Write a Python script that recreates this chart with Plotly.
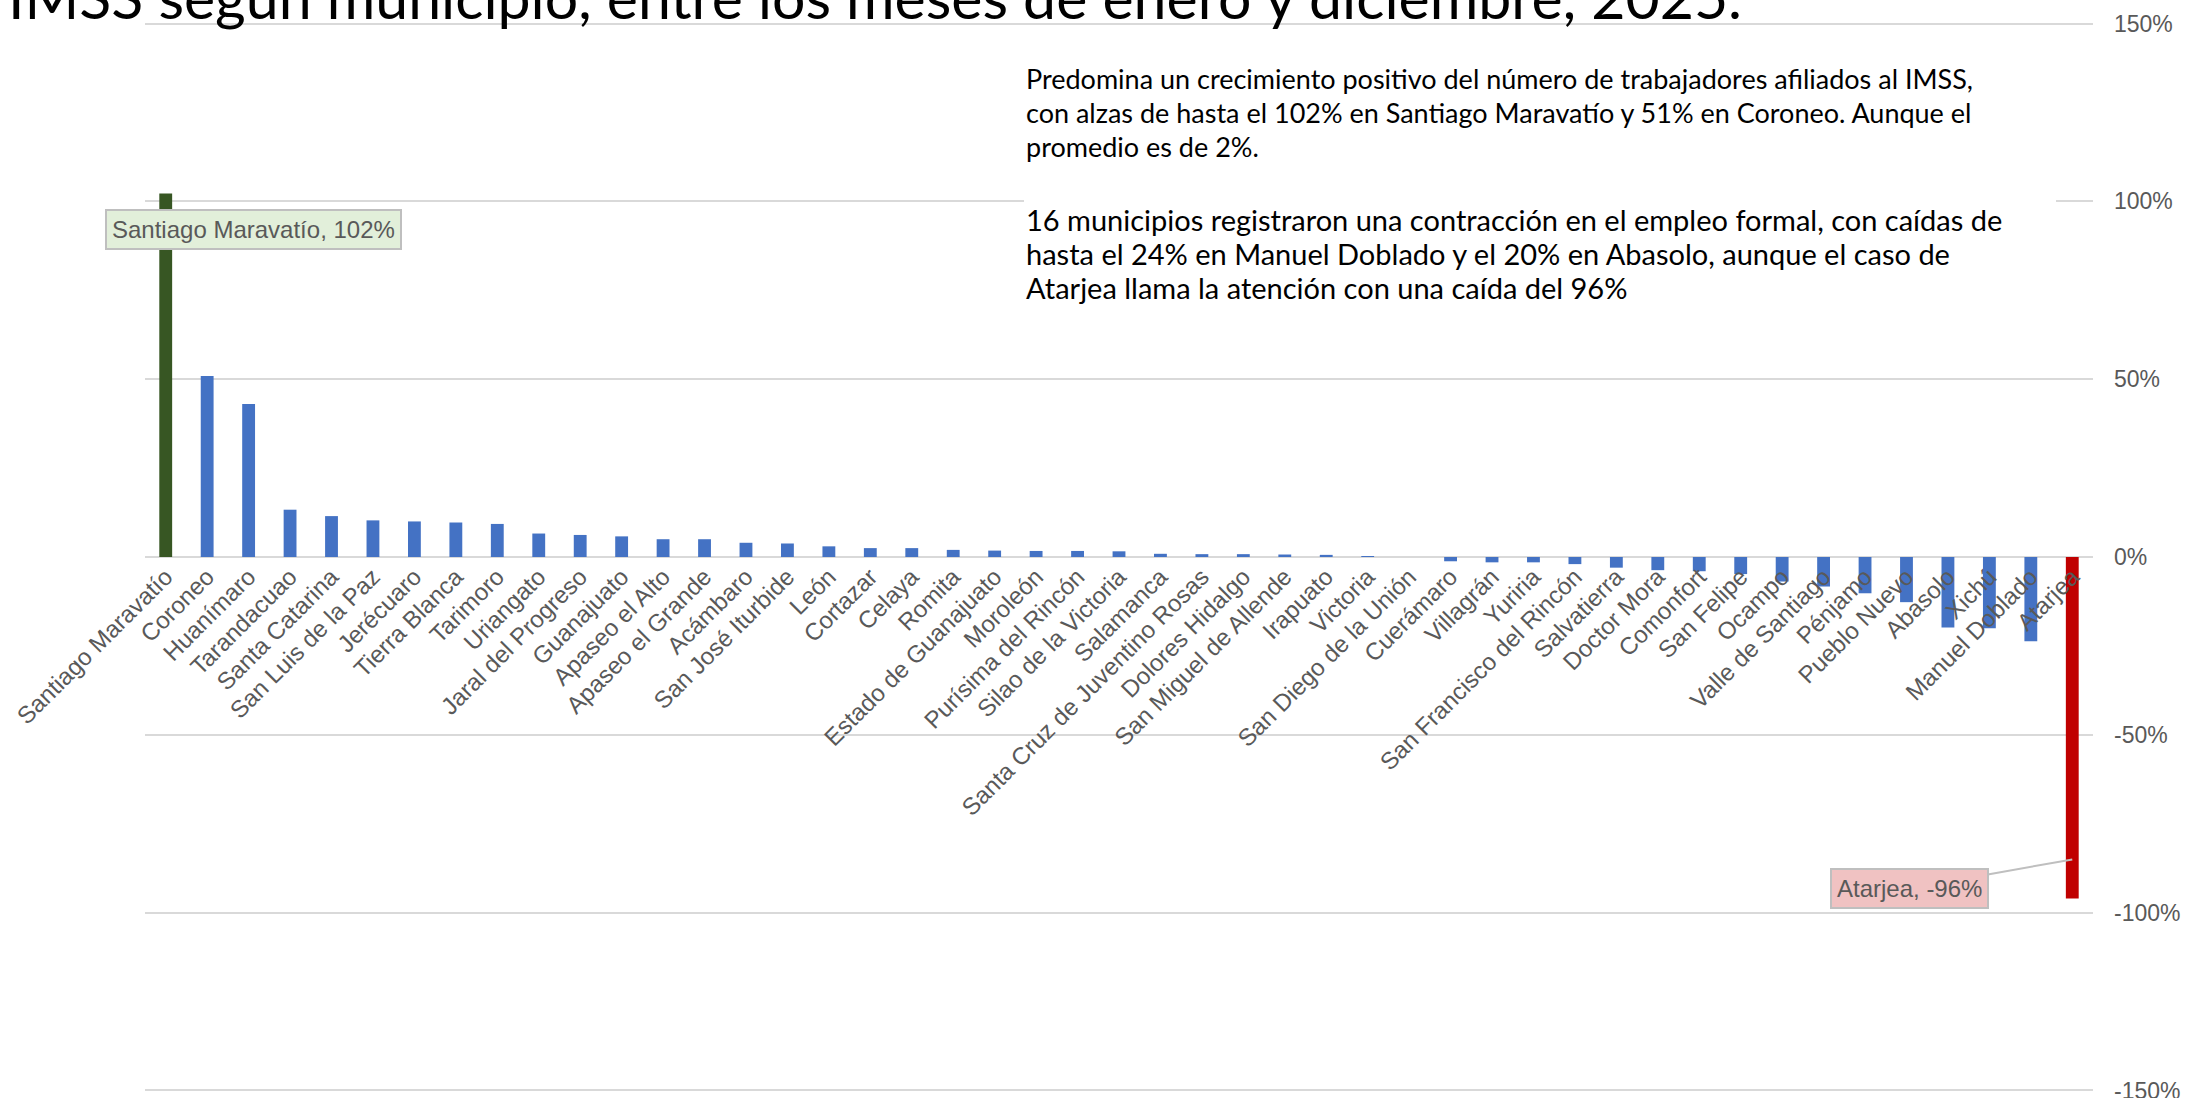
import plotly.graph_objects as go

municipios = [
    "Santiago Maravatío", "Coroneo", "Huanímaro", "Tarandacuao", "Santa Catarina",
    "San Luis de la Paz", "Jerécuaro", "Tierra Blanca", "Tarimoro", "Uriangato",
    "Jaral del Progreso", "Guanajuato", "Apaseo el Alto", "Apaseo el Grande", "Acámbaro",
    "San José Iturbide", "León", "Cortazar", "Celaya", "Romita",
    "Estado de Guanajuato", "Moroleón", "Purísima del Rincón", "Silao de la Victoria", "Salamanca",
    "Santa Cruz de Juventino Rosas", "Dolores Hidalgo", "San Miguel de Allende", "Irapuato", "Victoria",
    "San Diego de la Unión", "Cuerámaro", "Villagrán", "Yuriria", "San Francisco del Rincón",
    "Salvatierra", "Doctor Mora", "Comonfort", "San Felipe", "Ocampo",
    "Valle de Santiago", "Pénjamo", "Pueblo Nuevo", "Abasolo", "Xichú",
    "Manuel Doblado", "Atarjea",
]
variacion = [
    102.2, 50.9, 43.0, 13.3, 11.5,
    10.3, 10.0, 9.7, 9.3, 6.6,
    6.2, 5.8, 5.0, 5.0, 4.0,
    3.8, 3.0, 2.5, 2.5, 2.0,
    1.8, 1.7, 1.7, 1.6, 0.9,
    0.8, 0.8, 0.7, 0.6, 0.05,
    0.0, -1.2, -1.5, -1.5, -2.0,
    -3.0, -3.7, -4.0, -4.8, -6.9,
    -8.3, -10.2, -12.7, -19.8, -20.0,
    -23.7, -96.0,
]
y_ticks = [-150, -100, -50, 0, 50, 100, 150]
y_ticktext = ["-150%", "-100%", "-50%", "0%", "50%", "100%", "150%"]

titulo = "IMSS según municipio, entre los meses de enero y diciembre, 2025."
parrafo1 = [
    "Predomina un crecimiento positivo del número de trabajadores afiliados al IMSS,",
    "con alzas de hasta el 102% en Santiago Maravatío y 51% en Coroneo. Aunque el",
    "promedio es de 2%.",
]
parrafo2 = [
    "16 municipios registraron una contracción en el empleo formal, con caídas de",
    "hasta el 24% en Manuel Doblado y el 20% en Abasolo, aunque el caso de",
    "Atarjea llama la atención con una caída del 96%",
]

W, H = 2185, 1098
L, R, T, B = 145, 2093, 20, 1094


def px_x(px):
    return (px - L) / (R - L)


def px_y(py):
    return (B - py) / (B - T)


BLUE = "#4472C4"
colors = [BLUE] * len(municipios)
colors[0] = "#375623"
colors[-1] = "#C00000"

fig = go.Figure()
fig.add_trace(go.Bar(
    x=municipios, y=variacion, marker=dict(color=colors, line=dict(width=0)),
    width=0.31, showlegend=False,
))

GRID = "#D9D9D9"
fig.update_layout(
    width=W, height=H,
    margin=dict(l=L, r=W - R, t=T, b=H - B, pad=0, autoexpand=False),
    paper_bgcolor="white", plot_bgcolor="white",
    font=dict(family="Liberation Sans, Arial, sans-serif", color="#595959"),
    xaxis=dict(
        type="category", anchor="free", position=0.5, automargin=False,
        tickangle=-45, tickfont=dict(size=24, color="#595959"),
        showgrid=False, showline=False, ticks="", zeroline=False,
        range=[-0.5, len(municipios) - 0.5],
    ),
    yaxis=dict(
        side="right", range=[-151, 151], tickvals=y_ticks, ticktext=y_ticktext,
        automargin=False,
        showgrid=True, gridcolor=GRID, gridwidth=2,
        zeroline=True, zerolinecolor=GRID, zerolinewidth=2,
        tickfont=dict(size=23, color="#595959"), ticklabelstandoff=20,
        ticklabeloverflow="allow",
        showline=False, ticks="",
    ),
)

# white panel behind the commentary text
fig.add_shape(type="rect", xref="paper", yref="paper",
              x0=px_x(1024), x1=px_x(2056), y0=px_y(305), y1=px_y(45),
              fillcolor="white", line=dict(width=0), layer="above")

fig.add_annotation(xref="paper", yref="paper", x=px_x(6), y=px_y(34),
                   xanchor="left", yanchor="bottom", showarrow=False,
                   text=titulo, font=dict(family="Lato, sans-serif", size=59, color="#000000"))

for lines, size, y0, step in ((parrafo1, 27, 79, 33.5), (parrafo2, 29, 219, 34.5)):
    for i, line in enumerate(lines):
        fig.add_annotation(xref="paper", yref="paper", x=px_x(1024), y=px_y(y0 + i * step),
                           xanchor="left", yanchor="middle", align="left", showarrow=False,
                           text=line, font=dict(family="Lato, sans-serif", size=size, color="#000000"))

fig.add_annotation(x=municipios[0], y=variacion[0], xref="x", yref="y",
                   xshift=88, yshift=-36, showarrow=False,
                   text=f"{municipios[0]}, {variacion[0]:.0f}%",
                   font=dict(size=24, color="#595959"),
                   bgcolor="#E2EFDA", bordercolor="#BFBFBF", borderwidth=2, borderpad=5)
fig.add_annotation(x=municipios[-1], y=variacion[-1], xref="x", yref="y",
                   yshift=39, ax=-163, ay=29, showarrow=True, arrowhead=0,
                   arrowcolor="#BFBFBF", arrowwidth=2,
                   text=f"{municipios[-1]}, {variacion[-1]:.0f}%",
                   font=dict(size=24, color="#595959"),
                   bgcolor="#F0C2C2", bordercolor="#BFBFBF", borderwidth=2, borderpad=5)

fig.write_html("out.html", config={"displayModeBar": False},
               post_script="document.body.style.margin='0';")
